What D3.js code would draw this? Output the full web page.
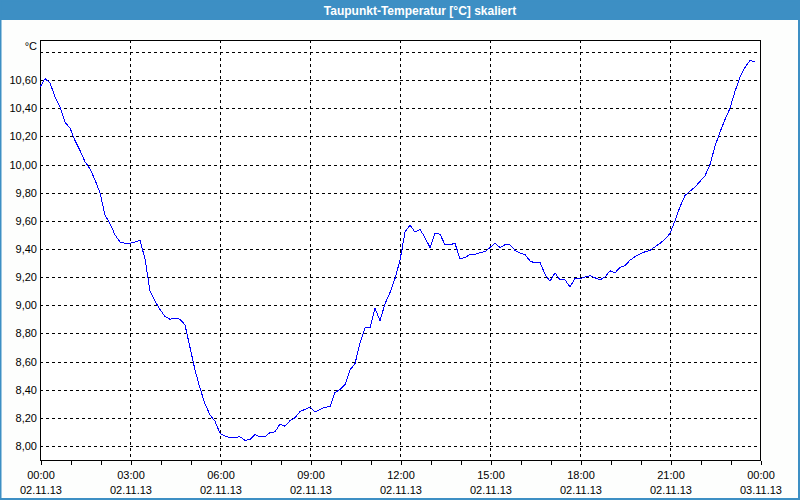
<!DOCTYPE html>
<html><head><meta charset="utf-8">
<script src="https://cdn.jsdelivr.net/npm/d3@7"></script>
<style>html,body{margin:0;padding:0;background:#fdfefd;}svg{display:block;}</style>
</head><body>
<script>
// 10-minute readings, 02.11.13 00:00 .. 23:50
const values = [
10.55,10.61,10.58,10.48,10.41,10.30,10.26,10.17,10.10,10.02,9.97,9.89,
9.80,9.64,9.58,9.50,9.45,9.44,9.44,9.45,9.46,9.33,9.10,9.03,
8.97,8.92,8.90,8.91,8.90,8.86,8.70,8.54,8.41,8.30,8.22,8.175,
8.09,8.07,8.06,8.06,8.065,8.04,8.045,8.08,8.065,8.065,8.095,8.10,
8.155,8.14,8.18,8.20,8.245,8.26,8.275,8.24,8.26,8.275,8.28,8.38,
8.40,8.435,8.54,8.585,8.73,8.84,8.84,8.98,8.89,9.01,9.09,9.19,
9.32,9.52,9.57,9.52,9.54,9.48,9.41,9.51,9.505,9.43,9.43,9.44,
9.33,9.34,9.36,9.36,9.375,9.38,9.41,9.44,9.41,9.43,9.43,9.39,
9.37,9.36,9.315,9.30,9.305,9.22,9.17,9.23,9.18,9.18,9.13,9.19,
9.19,9.20,9.21,9.195,9.18,9.20,9.245,9.23,9.27,9.28,9.32,9.345,
9.365,9.38,9.39,9.415,9.44,9.47,9.51,9.60,9.70,9.78,9.81,9.84,
9.88,9.92,10.00,10.13,10.23,10.32,10.40,10.52,10.62,10.69,10.74,10.73
];
const xTickHours = [0,3,6,9,12,15,18,21,24];
const xTickTimes = ["00:00","03:00","06:00","09:00","12:00","15:00","18:00","21:00","00:00"];
const xTickDates = ["02.11.13","02.11.13","02.11.13","02.11.13","02.11.13","02.11.13","02.11.13","02.11.13","03.11.13"];
const yTicks = [8.0,8.2,8.4,8.6,8.8,9.0,9.2,9.4,9.6,9.8,10.0,10.2,10.4,10.6,10.8];
const title = "Taupunkt-Temperatur [°C] skaliert";
const unit = "°C";

const W = 800, H = 500;
const L = 40, R = 760, T = 40, B = 460;
const font = "'Liberation Sans', Arial, sans-serif";

const svg = d3.select("body").append("svg").attr("width", W).attr("height", H);
svg.append("rect").attr("x",0).attr("y",0).attr("width",W).attr("height",H).attr("fill","#fdfefd");
// title bar
svg.append("rect").attr("x",0).attr("y",0).attr("width",W).attr("height",20).attr("fill","#3d8fc4");
svg.append("text").attr("x",420).attr("y",14.5).attr("text-anchor","middle")
  .attr("fill","#fff").attr("font-family",font).attr("font-weight","bold").attr("font-size",12).text(title);
// outer frame
svg.append("rect").attr("x",0.5).attr("y",0.5).attr("width",W-1.5).attr("height",H-1.5)
  .attr("fill","none").attr("stroke","#3d8fc4").attr("stroke-width",2);

const x = d3.scaleLinear().domain([0,24]).range([L,R]);
const y = d3.scaleLinear().domain([7.9, 10.885]).range([B,T]);

svg.append("rect").attr("x",L).attr("y",T).attr("width",R-L).attr("height",B-T).attr("fill","#fff");

// horizontal grid
const g = svg.append("g").attr("shape-rendering","crispEdges");
g.selectAll("line.h").data(yTicks).join("line")
  .attr("x1",L).attr("x2",R)
  .attr("y1",d=>Math.round(y(d))+0.5).attr("y2",d=>Math.round(y(d))+0.5)
  .attr("stroke","#000").attr("stroke-dasharray","3,3");
g.selectAll("line.v").data(xTickHours.slice(1,-1)).join("line")
  .attr("y1",T).attr("y2",B)
  .attr("x1",d=>Math.round(x(d))+0.5).attr("x2",d=>Math.round(x(d))+0.5)
  .attr("stroke","#000").attr("stroke-dasharray","3,3");

// line
const line = d3.line().x((d,i)=>x(i/6)).y(d=>y(d));
svg.append("path").datum(values).attr("d",line).attr("fill","none")
  .attr("stroke","#0000ff").attr("stroke-width",1).attr("shape-rendering","crispEdges");

// frame
g.append("rect").attr("x",L+0.5).attr("y",T+0.5).attr("width",R-L).attr("height",B-T)
  .attr("fill","none").attr("stroke","#000");

// x axis ticks (hourly)
const xAxis = d3.axisBottom(x).tickValues(d3.range(0,25)).tickSize(4).tickFormat("");
const xa = svg.append("g").attr("transform",`translate(0.5,${B+0.5})`).call(xAxis);
xa.select(".domain").remove();
xa.selectAll("line").attr("stroke","#000").attr("shape-rendering","crispEdges");

const xl = svg.append("g").attr("font-family",font).attr("font-size",11).attr("fill","#000").attr("text-anchor","middle");
xl.selectAll("text.t").data(xTickHours).join("text").attr("x",d=>x(d)+1).attr("y",479).text((d,i)=>xTickTimes[i]);
xl.selectAll("text.d").data(xTickHours).join("text").attr("x",d=>x(d)+1).attr("y",494).text((d,i)=>xTickDates[i]);

// y labels
const yl = svg.append("g").attr("font-family",font).attr("font-size",11).attr("fill","#000").attr("text-anchor","end");
yl.selectAll("text").data(yTicks.filter(d=>d<10.7)).join("text")
  .attr("x",37).attr("y",d=>y(d)+4).text(d=>d.toFixed(2).replace(".",","));
yl.append("text").attr("x",37).attr("y",50).text(unit);
</script>
</body></html>
